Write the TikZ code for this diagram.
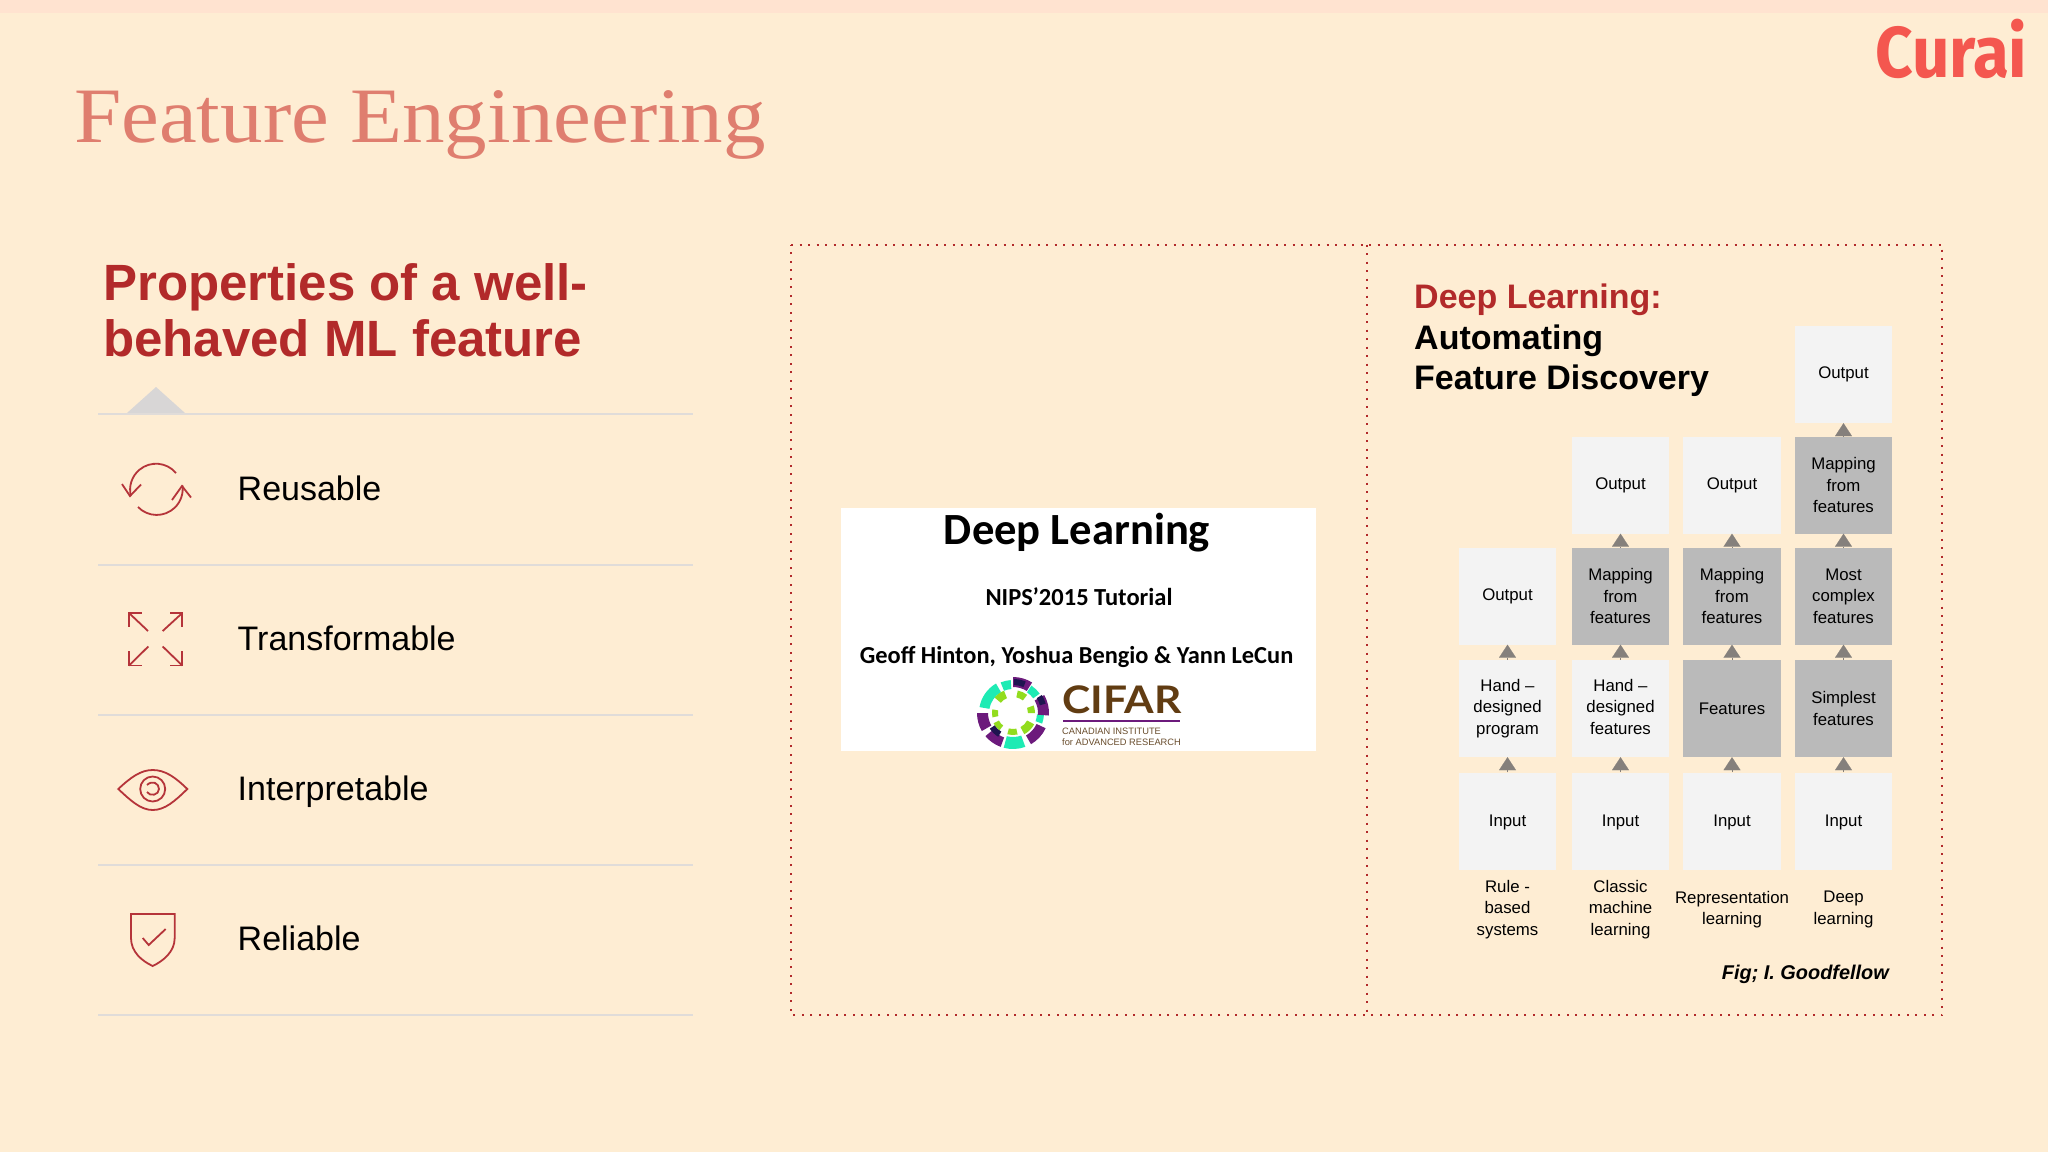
\documentclass[tikz,border=0pt]{standalone}
\usepackage{fontspec}
\usetikzlibrary{arrows.meta}
\setmainfont{Liberation Sans}
\newfontfamily\titlefont{Liberation Serif}
\newfontfamily\slidefont{Carlito}
\newfontfamily\brandfont{Fira Sans}
\newfontfamily\cifarfont{Lato}
\definecolor{paper}{HTML}{FEEDD3}
\definecolor{strip}{HTML}{FFE3D0}
\definecolor{titlerose}{HTML}{DF7E6F}
\definecolor{deepred}{HTML}{B22A2A}
\definecolor{iconred}{HTML}{B5343A}
\definecolor{rulegray}{HTML}{E0DCD9}
\definecolor{pointergray}{HTML}{D8D6D6}
\definecolor{lightbox}{HTML}{F3F3F3}
\definecolor{darkbox}{HTML}{BABABA}
\definecolor{tipgray}{HTML}{85807C}
\definecolor{ringteal}{HTML}{1EEBB4}
\definecolor{ringpurple}{HTML}{6C1A7C}
\definecolor{ringgreen}{HTML}{92DC1E}
\definecolor{ringnavy}{HTML}{1E1450}
\definecolor{cifarbrown}{HTML}{613C12}
\newcommand{\ringpart}[5]{\fill[#1] ([shift={(1013,713)}]#2:#5pt) arc[start angle=#2, end angle=#3, radius=#5pt] -- ([shift={(1013,713)}]#3:#4pt) arc[start angle=#3, end angle=#2, radius=#4pt] -- cycle;}
\newcommand{\inputlabel}{\raisebox{-1.4pt}[12pt][3.5pt]{Input}}
\tikzset{
	lightcell/.style={fill=lightbox, minimum width=97.5pt, minimum height=97pt, inner sep=0pt, align=center, font=\fontsize{16.8}{21.5}\selectfont},
	darkcell/.style={lightcell, fill=darkbox},
	caption/.style={inner sep=0pt, align=center, font=\fontsize{16.8}{21.5}\selectfont},
	uptip/.style={draw=tipgray, line width=0.1pt, -{Triangle[width=17pt,length=13pt,fill=tipgray]}},
	dotframe/.style={draw=deepred, line width=2pt, dash pattern=on 2pt off 6.5pt},
	divider/.style={draw=rulegray, line width=2pt},
	icon/.style={draw=iconred, line width=1.8pt},
	item/.style={anchor=base west, inner sep=0pt, font=\fontsize{34}{40}\selectfont},
	slideline/.style={anchor=base, inner sep=0pt}
}
\begin{document}
\begin{tikzpicture}[x=1pt, y=-1pt]
		\useasboundingbox (0,0) rectangle (2048,1152);
		\fill[paper] (0,0) rectangle (2048,1152);
		\fill[strip] (0,0) rectangle (2048,13);
		\node[anchor=base west, inner sep=0pt, xscale=1.083, text=titlerose, font=\titlefont\fontsize{78.5}{80}\selectfont] (title) at (74,142) {Feature Engineering};
		\node[anchor=base east, inner sep=0pt, xscale=0.91, text={rgb,255:red,244;green,87;blue,79}, font=\brandfont\bfseries\fontsize{72}{72}\selectfont] (brand) at (2027,77) {Cur\kern-0.03em a\kern-0.02em i};
		\node[anchor=base west, inner sep=0pt, text=deepred, font=\bfseries\fontsize{51}{55}\selectfont] (prop1) at (103,300.7) {Properties of a well-};
		\node[anchor=base west, inner sep=0pt, text=deepred, font=\bfseries\fontsize{51}{55}\selectfont] (prop2) at (103,356) {behaved ML feature};
		\coordinate (L0) at (98,413.5);
		\coordinate (R0) at (693,413.5);
		\coordinate (L1) at (98,564.5);
		\coordinate (R1) at (693,564.5);
		\coordinate (L2) at (98,714.5);
		\coordinate (R2) at (693,714.5);
		\coordinate (L3) at (98,865);
		\coordinate (R3) at (693,865);
		\coordinate (L4) at (98,1015);
		\coordinate (R4) at (693,1015);
		\fill[pointergray] (127,413) -- (156,387) -- (185,413) -- cycle;
		\draw[divider] (L0) -- (R0);
		\draw[divider] (L1) -- (R1);
		\draw[divider] (L2) -- (R2);
		\draw[divider] (L3) -- (R3);
		\draw[divider] (L4) -- (R4);
		\node[item] (reuse) at (237.5,500) {Reusable};
		\node[item] (transform) at (237.5,650) {Transformable};
		\node[item] (interp) at (237.5,800) {Interpretable};
		\node[item] (reliable) at (237.5,950.5) {Reliable};
		\draw[icon] (176,473) arc[start angle=40, end angle=194, radius=26pt];
		\draw[icon] (122,484) -- (130,496) -- (141,484.5);
		\draw[icon] (138,507) arc[start angle=224, end angle=368, radius=26pt];
		\draw[icon] (172,500) -- (182,486) -- (191,497.5);
		\draw[icon] (148,631) -- (129,613);
		\draw[icon] (141.7,613) -- (129,613) -- (129,627);
		\draw[icon] (162.7,631) -- (182.3,613);
		\draw[icon] (170,613) -- (182.3,613) -- (182.3,627);
		\draw[icon] (148.3,646.5) -- (129,665.5);
		\draw[icon] (141.7,665.5) -- (129,665.5) -- (129,651);
		\draw[icon] (162.7,646.5) -- (182.3,665.5);
		\draw[icon] (170,665.5) -- (182.3,665.5) -- (182.3,651);
		\draw[icon] (118.3,789) .. controls (131,777) and (141,770) .. (152.7,770) .. controls (165,770) and (175,777) .. (187.3,789) .. controls (175,801) and (165,810) .. (152.7,810) .. controls (141,810) and (131,801) .. (118.3,789) -- cycle;
		\draw[icon] (152.7,789) circle[radius=12.5pt];
		\draw[icon] (147,785) .. controls (152,780) and (159,783) .. (159,789) .. controls (159,795) and (150,797) .. (147,792);
		\draw[icon] (131,914) -- (174.7,914) -- (174.7,938) .. controls (174.7,952) and (163,961) .. (152.7,966) .. controls (142,961) and (131,952) .. (131,938) -- cycle;
		\draw[icon] (142.7,938) -- (148.7,945) -- (165.7,929);
		\coordinate (F1) at (791,244.5);
		\coordinate (F2) at (1942,244.5);
		\coordinate (F3) at (1942,1015);
		\coordinate (F4) at (791,1015);
		\coordinate (M1) at (1366.5,244.5);
		\coordinate (M2) at (1366.5,1015);
		\draw[dotframe] (F1) -- (F2) -- (F3) -- (F4) -- cycle;
		\draw[dotframe] (M1) -- (M2);
		\fill[white] (841,508) rectangle (1316,751);
		\node[slideline, font=\slidefont\bfseries\fontsize{44.6}{46}\selectfont] (talk) at (1077,544) {Deep Learning};
		\node[slideline, font=\slidefont\bfseries\fontsize{24.5}{26}\selectfont] (nips) at (1079,605.5) {NIPS’2015 Tutorial};
		\node[slideline, font=\slidefont\bfseries\fontsize{24.4}{26}\selectfont] (names) at (1076.5,663) {Geoff Hinton, Yoshua Bengio \& Yann LeCun};
		\ringpart{ringpurple}{58}{90}{26}{36}
		\ringpart{ringteal}{94}{112}{24}{33}
		\ringpart{ringteal}{120}{170}{24}{34}
		\ringpart{ringpurple}{180}{210}{25}{36}
		\ringpart{ringpurple}{220}{250}{26}{36}
		\ringpart{ringteal}{255}{290}{24}{36}
		\ringpart{ringpurple}{300}{335}{26}{36}
		\ringpart{ringteal}{340}{357}{24}{31}
		\ringpart{ringpurple}{-4}{30}{25}{36}
		\ringpart{ringteal}{36}{56}{25}{33}
		\ringpart{ringnavy}{68}{88}{28}{34}
		\ringpart{ringnavy}{16}{32}{28}{34}
		\ringpart{ringnavy}{214}{238}{22}{28}
		\ringpart{ringgreen}{0}{20}{15}{22}
		\ringpart{ringgreen}{52}{78}{16}{23}
		\ringpart{ringgreen}{112}{140}{16}{24}
		\ringpart{ringgreen}{170}{192}{15}{21}
		\ringpart{ringgreen}{208}{232}{16}{22}
		\ringpart{ringgreen}{255}{282}{16}{22}
		\ringpart{ringgreen}{298}{332}{16}{24}
		\node[anchor=base west, inner sep=0pt, xscale=1.12, text=cifarbrown, font=\cifarfont\bfseries\fontsize{38}{40}\selectfont] (cifar) at (1062,713) {CIFAR};
		\coordinate (C1) at (1063,721);
		\coordinate (C2) at (1180,721);
		\draw[ringpurple, line width=1.2pt] (C1) -- (C2);
		\node[anchor=base west, inner sep=0pt, text=cifarbrown!75!gray, font=\fontsize{9.3}{10}\selectfont] (canada) at (1062,734) {CANADIAN INSTITUTE};
		\node[anchor=base west, inner sep=0pt, text=cifarbrown!75!gray, font=\fontsize{9.3}{10}\selectfont] (advanced) at (1062,745) {for ADVANCED RESEARCH};
		\node[anchor=base west, inner sep=0pt, text=deepred, font=\bfseries\fontsize{34}{36}\selectfont] (deep) at (1414,308) {Deep Learning:};
		\node[anchor=base west, inner sep=0pt, font=\bfseries\fontsize{34}{36}\selectfont] (auto) at (1414,349) {Automating};
		\node[anchor=base west, inner sep=0pt, font=\bfseries\fontsize{34}{36}\selectfont] (disc) at (1414,389) {Feature Discovery};
		\node[lightcell] (inA) at (1507.5,821) {\inputlabel};
		\node[lightcell] (inB) at (1620.5,821) {\inputlabel};
		\node[lightcell] (inC) at (1732,821) {\inputlabel};
		\node[lightcell] (inD) at (1843.5,821) {\inputlabel};
		\node[lightcell] (handA) at (1507.5,708.5) {Hand --\\designed\\program};
		\node[lightcell] (handB) at (1620.5,708.5) {Hand --\\designed\\features\vphantom{p}};
		\node[darkcell] (featC) at (1732,708.5) {Features};
		\node[darkcell] (simpleD) at (1843.5,708.5) {Simplest\\features};
		\node[lightcell] (outA) at (1507.5,596) {Output};
		\node[darkcell] (mapB) at (1620.5,596) {Mapping\\from\\features};
		\node[darkcell] (mapC) at (1732,596) {Mapping\\from\\features};
		\node[darkcell] (complexD) at (1843.5,596) {Most\\complex\\features};
		\node[lightcell] (outB) at (1620.5,485) {Output};
		\node[lightcell] (outC) at (1732,485) {Output};
		\node[darkcell] (mapD) at (1843.5,485) {Mapping\\from\\features};
		\node[lightcell] (outD) at (1843.5,374.5) {Output};
		\draw[uptip] (inA) -- (handA);
		\draw[uptip] (inB) -- (handB);
		\draw[uptip] (inC) -- (featC);
		\draw[uptip] (inD) -- (simpleD);
		\draw[uptip] (handA) -- (outA);
		\draw[uptip] (handB) -- (mapB);
		\draw[uptip] (featC) -- (mapC);
		\draw[uptip] (simpleD) -- (complexD);
		\draw[uptip] (mapB) -- (outB);
		\draw[uptip] (mapC) -- (outC);
		\draw[uptip] (complexD) -- (mapD);
		\draw[uptip] (mapD) -- (outD);
		\node[caption] (ruleA) at (1507.5,909.5) {Rule -\\based\\systems};
		\node[caption] (classicB) at (1620.5,909.5) {Classic\\machine\\learning};
		\node[caption] (reprC) at (1732,909.5) {Representation\\learning};
		\node[caption] (deepD) at (1843.5,909.5) {Deep\\learning};
		\node[anchor=base east, inner sep=0pt, font=\bfseries\itshape\fontsize{19.9}{22}\selectfont] (credit) at (1889,979) {Fig; I. Goodfellow};
\end{tikzpicture}
\end{document}
